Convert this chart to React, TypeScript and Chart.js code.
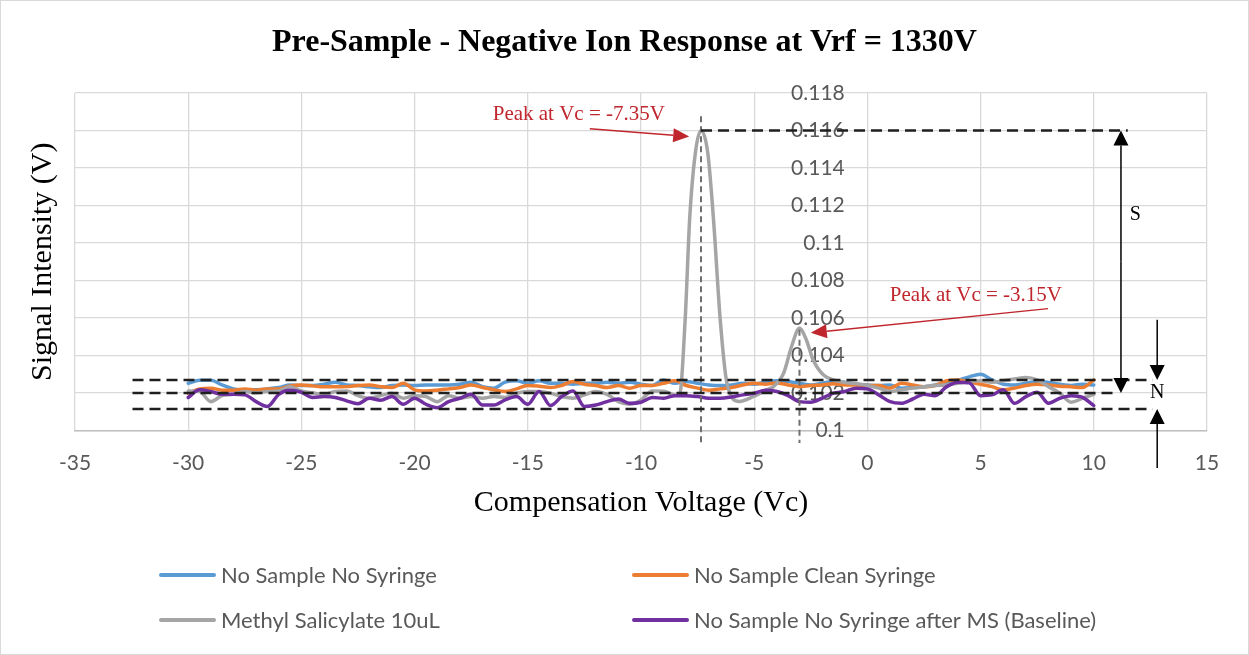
import React, { useEffect, useRef } from "react";
import { Chart, registerables } from "chart.js";

Chart.register(...registerables);

// ---------- data ----------
const xCats = [
  -30, -29.5, -29, -28.5, -28, -27.5, -27, -26.5, -26, -25.5, -25, -24.5, -24, -23.5, -23, -22.5, -22, -21.5, -21, -20.5,
  -20, -19.5, -19, -18.5, -18, -17.5, -17, -16.5, -16, -15.5, -15, -14.5, -14, -13.5, -13, -12.5, -12, -11.5, -11, -10.5,
  -10, -9.5, -9, -8.5, -8, -7.5, -7, -6.5, -6, -5.5, -5, -4.5, -4, -3.5, -3, -2.5, -2, -1.5, -1, -0.5,
  0, 0.5, 1, 1.5, 2, 2.5, 3, 3.5, 4, 4.5, 5, 5.5, 6, 6.5, 7, 7.5, 8, 8.5, 9, 9.5, 10,
];

const noSampleNoSyringe = [
  0.10252, 0.10268, 0.10268, 0.10243, 0.10222, 0.10217, 0.10218, 0.10222, 0.10229, 0.10243, 0.1024, 0.1024, 0.10247, 0.10258, 0.10243, 0.1024, 0.10233, 0.10229, 0.1024, 0.10243, 0.1024,
  0.10243, 0.10243, 0.10243, 0.10247, 0.10258, 0.10234, 0.10226, 0.10258, 0.10265, 0.10252, 0.10265, 0.10252, 0.10252, 0.10247, 0.10252, 0.10252, 0.10258, 0.10252, 0.10258, 0.10247, 0.1024,
  0.1027, 0.10252, 0.10261, 0.10252, 0.10243, 0.1024, 0.10243, 0.10252, 0.10247, 0.10258, 0.10265, 0.10261, 0.10252, 0.10243, 0.10252, 0.10261, 0.10258, 0.10247, 0.10243, 0.1024, 0.10243,
  0.10226, 0.10229, 0.10233, 0.10243, 0.10252, 0.10268, 0.10286, 0.103, 0.1027, 0.10247, 0.10243, 0.10252, 0.10261, 0.10256, 0.10247, 0.1024, 0.10247, 0.10243,
];

const noSampleCleanSyringe = [
  0.10199, 0.10222, 0.10226, 0.10215, 0.10215, 0.10222, 0.10215, 0.10222, 0.10222, 0.10238, 0.10243, 0.10238, 0.10233, 0.10233, 0.10234, 0.1024, 0.10243, 0.10234, 0.10229, 0.10252, 0.10217,
  0.10211, 0.10215, 0.10222, 0.10229, 0.10243, 0.10229, 0.10217, 0.10208, 0.10222, 0.1024, 0.10236, 0.10229, 0.1024, 0.10261, 0.10247, 0.1024, 0.10229, 0.1024, 0.10226, 0.1024, 0.1024,
  0.10252, 0.10265, 0.1024, 0.10226, 0.10215, 0.10222, 0.10229, 0.10243, 0.10252, 0.10247, 0.10254, 0.10243, 0.10234, 0.1024, 0.10243, 0.1025, 0.10243, 0.10243, 0.1024, 0.1024, 0.10226,
  0.10252, 0.10243, 0.10233, 0.1024, 0.10265, 0.1027, 0.10258, 0.10247, 0.10234, 0.10217, 0.10226, 0.1024, 0.10247, 0.10243, 0.10236, 0.10233, 0.10229, 0.1027,
];

const baselineAfterMS = [
  0.10176, 0.10217, 0.10208, 0.10193, 0.10193, 0.1019, 0.10154, 0.10128, 0.10193, 0.10215, 0.10204, 0.10176, 0.10181, 0.10176, 0.10158, 0.10143, 0.10172, 0.10161, 0.10181, 0.1014, 0.10172,
  0.1014, 0.10122, 0.10154, 0.10172, 0.10193, 0.10136, 0.10136, 0.10163, 0.10181, 0.1014, 0.10208, 0.10133, 0.10181, 0.10211, 0.10128, 0.10136, 0.10154, 0.10168, 0.10145, 0.10151, 0.10176,
  0.10172, 0.10186, 0.10186, 0.10181, 0.10172, 0.10172, 0.10179, 0.1019, 0.10199, 0.10215, 0.10208, 0.10186, 0.10154, 0.10151, 0.10172, 0.10199, 0.10208, 0.10226, 0.10222, 0.1019, 0.10154,
  0.10145, 0.10168, 0.10193, 0.10186, 0.10234, 0.10258, 0.10254, 0.10186, 0.1019, 0.10217, 0.10145, 0.10181, 0.10204, 0.10145, 0.10172, 0.10186, 0.10177, 0.10133,
];

const methylX = [
  -30, -29.5, -29, -28.5, -28, -27.5, -27, -26.5, -26, -25.5, -25, -24.5, -24, -23.5, -23, -22.5, -22, -21.5, -21, -20.5,
  -20, -19.5, -19, -18.5, -18, -17.5, -17, -16.5, -16, -15.5, -15, -14.5, -14, -13.5, -13, -12.5, -12, -11.5, -11, -10.5,
  -10, -9.5,
  -9, -8.5, -8.3, -8.05, -7.85, -7.6, -7.35, -7.05, -6.8, -6.5, -6.2, -5.65, -5.05, -4.45, -4.15, -3.7, -3.35, -3.0, -2.7, -2.4,
  -1.95, -1.5, -0.9, -0.5, 0, 0.5,
  1, 1.5, 2, 2.5, 3, 3.5, 4, 4.5, 5, 5.5, 6, 6.5, 7, 7.5, 8, 8.5, 9, 9.5, 10,
];
const methylSalicylate = [
  0.10211, 0.10208, 0.10154, 0.10186, 0.10193, 0.10208, 0.10201, 0.10208, 0.10211, 0.10234, 0.10211, 0.10201, 0.10193, 0.10208, 0.10211, 0.10186, 0.10172, 0.10186, 0.10199, 0.10172, 0.10186,
  0.10181, 0.10154, 0.10186, 0.10172, 0.10181, 0.10172, 0.10181, 0.10176, 0.10199, 0.10208, 0.10208, 0.10199, 0.10181, 0.10172, 0.1019, 0.10208, 0.10193, 0.10154, 0.1014, 0.10163, 0.10211,
  0.1021, 0.1019, 0.1019, 0.1059, 0.1113, 0.1148, 0.116, 0.1148, 0.1113, 0.1059, 0.1025, 0.10155, 0.1018, 0.10217, 0.10234, 0.10306, 0.10448, 0.10546, 0.10484, 0.10377,
  0.10297, 0.1027, 0.10254, 0.1025, 0.1024, 0.10226,
  0.10208, 0.10217, 0.10226, 0.10233, 0.1024, 0.10243, 0.10252, 0.10261, 0.10265, 0.10258, 0.10265, 0.10275, 0.10283, 0.1027, 0.10234, 0.10199, 0.10151, 0.10172, 0.10193,
];

const seriesNames = [
  "No Sample No Syringe",
  "No Sample Clean Syringe",
  "Methyl Salicylate 10uL",
  "No Sample No Syringe after MS (Baseline)",
];
const seriesColors = ["#5B9BD5", "#ED7D31", "#A5A5A5", "#7030A0"];

const xTickValues = [-35, -30, -25, -20, -15, -10, -5, 0, 5, 10, 15];
const yTickValues = [0.1, 0.102, 0.104, 0.106, 0.108, 0.11, 0.112, 0.114, 0.116, 0.118];
const yTickLabels = ["0.1", "0.102", "0.104", "0.106", "0.108", "0.11", "0.112", "0.114", "0.116", "0.118"];
// the vertical axis crosses at Vc = 0; its labels sit just left of it
const yLabelAnchorX = -1;

// annotation values (data units)
const peakXs = [-7.35, -3.0];
const peakGuideTops = [0.11676, 0.10537];
const peakGuideBottom = 0.09933;
const peakLabels = ["Peak at Vc = -7.35V", "Peak at Vc = -3.15V"];
const peakLabelAt = [[-16.55, 0.11687], [0.99, 0.10719]];
const peakArrowFrom = [[-12.26, 0.11609], [7.98, 0.1065]];
const peakArrowTo = [[-7.87, 0.11568], [-2.5, 0.10521]];
const signalLevel = 0.116;
const signalLineEnd = 11.5;
const noiseLevels = [0.1027, 0.102, 0.10115];
const noiseLineStart = -32.46;
const noiseLineEnds = [12.6, 10.9, 12.6];
const sArrowX = 11.2;
const sArrowBottom = 0.102;
const sLabelAt = [11.83, 0.11152];
const nArrowX = 12.8;
const nArrowStarts = [0.10591, 0.098];
const nLabelLevel = 0.102;

const TITLE = "Pre-Sample - Negative Ion Response at Vrf = 1330V";
const X_TITLE = "Compensation Voltage (Vc)";
const Y_TITLE = "Signal Intensity (V)";

const SERIF = '"Liberation Serif", "Times New Roman", serif';
const SANS = 'Lato, "Open Sans", sans-serif';

function arrow(ctx: CanvasRenderingContext2D, x1: number, y1: number, x2: number, y2: number, color: string, lw: number, headLen: number, headHalf: number) {
  const ang = Math.atan2(y2 - y1, x2 - x1);
  const bx = x2 - headLen * Math.cos(ang);
  const by = y2 - headLen * Math.sin(ang);
  ctx.save();
  ctx.strokeStyle = color;
  ctx.fillStyle = color;
  ctx.lineWidth = lw;
  ctx.setLineDash([]);
  ctx.beginPath();
  ctx.moveTo(x1, y1);
  ctx.lineTo(bx, by);
  ctx.stroke();
  ctx.beginPath();
  ctx.moveTo(x2, y2);
  ctx.lineTo(bx + headHalf * Math.sin(ang), by - headHalf * Math.cos(ang));
  ctx.lineTo(bx - headHalf * Math.sin(ang), by + headHalf * Math.cos(ang));
  ctx.closePath();
  ctx.fill();
  ctx.restore();
}

const decorPlugin = {
  id: "decor",
  beforeDraw(chart: any) {
    const { ctx, width, height } = chart;
    ctx.save();
    ctx.fillStyle = "#ffffff";
    ctx.fillRect(0, 0, width, height);
    ctx.strokeStyle = "#d9d9d9";
    ctx.lineWidth = 1;
    ctx.strokeRect(0.5, 0.5, width - 1, height - 1);
    ctx.restore();
  },
  afterDatasetsDraw(chart: any) {
    const { ctx, scales } = chart;
    const xs = scales.x;
    const ys = scales.y;
    const px = (v: number) => xs.getPixelForValue(v);
    const py = (v: number) => ys.getPixelForValue(v);
    ctx.save();
    ctx.strokeStyle = "#6f6f6f";
    ctx.lineWidth = 2;
    ctx.setLineDash([6, 4]);
    peakXs.forEach((x, i) => {
      ctx.beginPath();
      ctx.moveTo(px(x), py(peakGuideTops[i]));
      ctx.lineTo(px(x), py(peakGuideBottom));
      ctx.stroke();
    });
    ctx.strokeStyle = "#1f1f1f";
    ctx.lineWidth = 2.5;
    ctx.setLineDash([11, 6]);
    ctx.beginPath();
    ctx.moveTo(px(peakXs[0]), py(signalLevel));
    ctx.lineTo(px(signalLineEnd), py(signalLevel));
    ctx.stroke();
    noiseLevels.forEach((lv, i) => {
      ctx.beginPath();
      ctx.moveTo(px(noiseLineStart), py(lv));
      ctx.lineTo(px(noiseLineEnds[i]), py(lv));
      ctx.stroke();
    });
    ctx.restore();

    const sx = px(sArrowX);
    const sTop = py(signalLevel);
    const sBot = py(sArrowBottom);
    const sMid = (sTop + sBot) / 2;
    arrow(ctx, sx, sMid, sx, sTop, "#000", 1.5, 15, 7.5);
    arrow(ctx, sx, sMid, sx, sBot, "#000", 1.5, 15, 7.5);
    const nx = px(nArrowX);
    arrow(ctx, nx, py(nArrowStarts[0]), nx, py(noiseLevels[0]), "#000", 1.5, 15, 7.5);
    arrow(ctx, nx, py(nArrowStarts[1]), nx, py(noiseLevels[2]), "#000", 1.5, 15, 7.5);
    ctx.save();
    ctx.fillStyle = "#000";
    ctx.font = `20px ${SERIF}`;
    ctx.textAlign = "center";
    ctx.textBaseline = "middle";
    ctx.fillText("S", px(sLabelAt[0]), py(sLabelAt[1]));
    ctx.fillText("N", nx, py(nLabelLevel));
    ctx.restore();

    peakLabels.forEach((t, i) => {
      arrow(ctx, px(peakArrowFrom[i][0]), py(peakArrowFrom[i][1]), px(peakArrowTo[i][0]), py(peakArrowTo[i][1]), "#C0262D", 1.5, 16, 7);
      ctx.save();
      ctx.fillStyle = "#C0262D";
      ctx.font = `21px ${SERIF}`;
      ctx.textAlign = "left";
      ctx.textBaseline = "middle";
      ctx.fillText(t, px(peakLabelAt[i][0]), py(peakLabelAt[i][1]));
      ctx.restore();
    });
  },
  afterDraw(chart: any) {
    const { ctx, chartArea, width } = chart;
    ctx.save();
    ctx.fillStyle = "#000";
    ctx.textAlign = "center";
    ctx.textBaseline = "middle";
    ctx.font = `bold 32px ${SERIF}`;
    ctx.fillText(TITLE, width / 2, 43);
    ctx.font = `30px ${SERIF}`;
    ctx.fillText(X_TITLE, (chartArea.left + chartArea.right) / 2, 503);
    ctx.save();
    ctx.translate(43, (chartArea.top + chartArea.bottom) / 2);
    ctx.rotate(-Math.PI / 2);
    ctx.fillText(Y_TITLE, 0, 0);
    ctx.restore();

    const cols = [161, 634];
    const rows = [575, 620];
    ctx.font = `22px ${SANS}`;
    ctx.textAlign = "left";
    ctx.textBaseline = "middle";
    seriesNames.forEach((name, i) => {
      const cx = cols[i % 2];
      const cy = rows[Math.floor(i / 2)];
      ctx.strokeStyle = seriesColors[i];
      ctx.lineWidth = 4;
      ctx.lineCap = "round";
      ctx.beginPath();
      ctx.moveTo(cx, cy);
      ctx.lineTo(cx + 53, cy);
      ctx.stroke();
      ctx.fillStyle = "#595959";
      ctx.fillText(name, cx + 60, cy + 1);
    });
    ctx.restore();
  },
};

export default function App() {
  const canvasRef = useRef<HTMLCanvasElement | null>(null);

  useEffect(() => {
    const canvas = canvasRef.current;
    if (!canvas) return;
    const mk = (xv: number[], yv: number[]) => xv.map((x, i) => ({ x, y: yv[i] }));
    const datasets = [
      { label: seriesNames[0], data: mk(xCats, noSampleNoSyringe), order: 3 },
      { label: seriesNames[1], data: mk(xCats, noSampleCleanSyringe), order: 2 },
      { label: seriesNames[2], data: mk(methylX, methylSalicylate), order: 1 },
      { label: seriesNames[3], data: mk(xCats, baselineAfterMS), order: 0 },
    ].map((d, i) => ({
      ...d,
      borderColor: seriesColors[i],
      backgroundColor: seriesColors[i],
      borderWidth: 3.5,
      pointRadius: 0,
      pointHoverRadius: 0,
      fill: false,
      cubicInterpolationMode: "monotone" as const,
      borderCapStyle: "round" as const,
      borderJoinStyle: "round" as const,
    }));

    const chart = new Chart(canvas, {
      type: "line",
      data: { datasets },
      plugins: [decorPlugin],
      options: {
        responsive: false,
        animation: false,
        devicePixelRatio: 1,
        layout: { padding: { left: 75, right: 42, top: 93, bottom: 0 } },
        plugins: {
          legend: { display: false },
          title: { display: false },
          tooltip: { enabled: false },
        },
        scales: {
          x: {
            type: "linear",
            position: "bottom",
            min: xTickValues[0],
            max: xTickValues[xTickValues.length - 1],
            afterBuildTicks: (s: any) => {
              s.ticks = xTickValues.map((v) => ({ value: v }));
            },
            afterFit: (s: any) => {
              s.height = 224.5;
            },
            ticks: {
              color: "#595959",
              font: { family: SANS, size: 21 },
              padding: 20,
              maxRotation: 0,
              autoSkip: false,
              callback: (v: any) => String(v),
            },
            grid: { color: "#d9d9d9", lineWidth: 1.3, drawTicks: false },
            border: { display: true, color: "#bfbfbf", width: 1.5 },
          },
          y: {
            type: "linear",
            position: { x: yLabelAnchorX } as any,
            min: yTickValues[0],
            max: yTickValues[yTickValues.length - 1],
            afterBuildTicks: (s: any) => {
              s.ticks = yTickValues.map((v) => ({ value: v }));
            },
            ticks: {
              color: "#595959",
              font: { family: SANS, size: 21 },
              padding: 0,
              autoSkip: false,
              callback: (v: any) => {
                const idx = yTickValues.findIndex((t) => Math.abs(t - Number(v)) < 1e-7);
                return idx >= 0 ? yTickLabels[idx] : "";
              },
            },
            grid: { color: "#d9d9d9", lineWidth: 1.3, drawTicks: false },
            border: { display: false },
          },
        },
      },
    });
    return () => chart.destroy();
  }, []);

  return (
    <div style={{ position: "absolute", left: 0, top: 0, width: 1249, height: 655, background: "#fff" }}>
      <canvas ref={canvasRef} width={1249} height={655} style={{ display: "block" }} />
    </div>
  );
}
